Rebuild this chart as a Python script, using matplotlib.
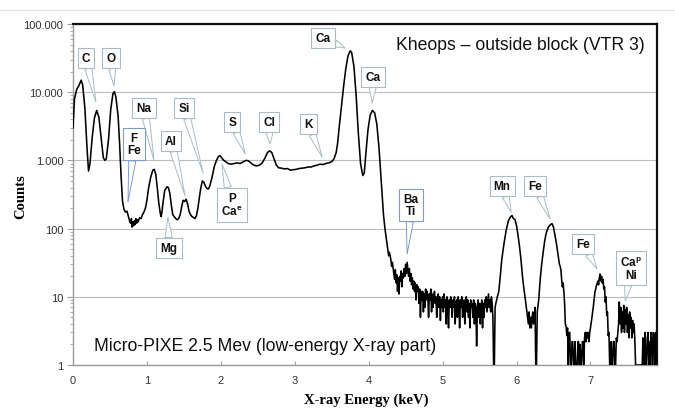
import matplotlib
matplotlib.use("Agg")
import matplotlib.pyplot as plt
from matplotlib.lines import Line2D
from matplotlib.ticker import FixedLocator, LogLocator, NullFormatter

# ---------------- data ----------------
energy_keV = [
    0.00, 0.02, 0.05, 0.08, 0.11, 0.13, 0.16, 0.19, 0.21, 0.23, 0.26, 0.29, 0.32, 0.35, 0.38, 0.41, 0.43, 0.45,
    0.48, 0.51, 0.54, 0.56, 0.58, 0.61, 0.63, 0.65, 0.67, 0.69, 0.71, 0.73, 0.75,
    0.76, 0.77, 0.78, 0.79, 0.80, 0.81, 0.82, 0.83, 0.84, 0.85, 0.86, 0.87, 0.88, 0.90, 0.92, 0.94, 0.96, 0.98,
    1.00, 1.02, 1.05, 1.08, 1.10, 1.12, 1.14, 1.16, 1.18, 1.19, 1.20, 1.22, 1.24, 1.27, 1.29, 1.31, 1.33, 1.35,
    1.37, 1.39, 1.41, 1.43, 1.45, 1.47, 1.49, 1.51, 1.53, 1.55, 1.57, 1.59, 1.61, 1.63, 1.65, 1.67, 1.69, 1.71,
    1.73, 1.75, 1.77, 1.79, 1.81, 1.83, 1.85, 1.88, 1.91, 1.94, 1.97, 1.99, 2.01, 2.04, 2.07, 2.10, 2.14, 2.18,
    2.22, 2.26, 2.30, 2.34, 2.37, 2.40, 2.44, 2.48, 2.52, 2.56, 2.60, 2.63, 2.66, 2.69, 2.72, 2.75, 2.78, 2.82,
    2.86, 2.90, 2.94, 2.98, 3.02, 3.06, 3.10, 3.14, 3.18, 3.22, 3.26, 3.30, 3.34, 3.38, 3.42, 3.46, 3.50, 3.53,
    3.56, 3.58, 3.60, 3.63, 3.66, 3.69, 3.72, 3.75, 3.77, 3.80, 3.83, 3.86, 3.89, 3.92, 3.94, 3.96, 3.99, 4.02,
    4.05, 4.08, 4.11, 4.14, 4.16, 4.18, 4.20, 4.22, 4.24, 4.26, 4.27, 4.28, 4.30, 4.31, 4.32, 4.34, 4.35, 4.36,
    4.37, 4.38, 4.39, 4.40, 4.41, 4.42, 4.43, 4.44, 4.45, 4.46, 4.47, 4.48, 4.49, 4.50, 4.51, 4.52, 4.53, 4.54,
    4.55, 4.56, 4.57, 4.58, 4.59, 4.60, 4.61, 4.62, 4.63, 4.64, 4.65, 4.66, 4.67, 4.68, 4.69, 4.70, 4.71,
    4.72, 4.73, 4.74, 4.75, 4.76, 4.77, 4.78, 4.79, 4.80, 4.81, 4.82, 4.83, 4.84, 4.85, 4.86, 4.87, 4.88, 4.89,
    4.90, 4.91, 4.92, 4.93, 4.94, 4.95, 4.96, 4.97, 4.98, 4.99, 5.00, 5.01, 5.02, 5.03, 5.04, 5.05, 5.06, 5.07,
    5.08, 5.09, 5.10, 5.11, 5.12, 5.13, 5.14, 5.15, 5.16, 5.17, 5.18, 5.19, 5.20, 5.21, 5.22, 5.23, 5.24, 5.25,
    5.26, 5.27, 5.28, 5.29, 5.30, 5.31, 5.32, 5.33, 5.34, 5.35, 5.36, 5.37, 5.38, 5.39, 5.40, 5.41, 5.42, 5.43,
    5.44, 5.45, 5.46, 5.47, 5.48, 5.49, 5.50, 5.51, 5.52, 5.53, 5.54, 5.55, 5.56, 5.57, 5.58, 5.59, 5.60, 5.61,
    5.62, 5.63, 5.64, 5.65, 5.66, 5.67, 5.68, 5.69, 5.70, 5.71, 5.72, 5.74, 5.76, 5.78, 5.80, 5.83, 5.86, 5.89,
    5.92, 5.94, 5.95, 5.96, 5.98, 6.00, 6.02, 6.04, 6.06, 6.08, 6.10, 6.12, 6.14, 6.16, 6.17, 6.18, 6.19, 6.20,
    6.21, 6.22, 6.23, 6.24, 6.25, 6.26, 6.27, 6.28, 6.30, 6.32, 6.34, 6.36, 6.38, 6.40, 6.43, 6.46, 6.48, 6.50,
    6.52, 6.54, 6.56, 6.58, 6.59, 6.60, 6.61, 6.62, 6.63, 6.64, 6.65, 6.66, 6.67, 6.68, 6.69, 6.70, 6.71, 6.72,
    6.73, 6.74, 6.75, 6.76, 6.77, 6.78, 6.79, 6.80, 6.81, 6.82, 6.83, 6.84, 6.85, 6.86, 6.87, 6.88, 6.89, 6.90,
    6.91, 6.92, 6.93, 6.94, 6.95, 6.96, 6.97, 6.98, 6.99, 7.00, 7.02, 7.04, 7.06, 7.08, 7.10, 7.11, 7.12, 7.13,
    7.14, 7.15, 7.16, 7.17, 7.18, 7.19, 7.20, 7.21, 7.22, 7.23, 7.24, 7.25, 7.26, 7.27, 7.28, 7.29, 7.30, 7.31,
    7.32, 7.33, 7.34, 7.35, 7.36, 7.37, 7.38, 7.39, 7.40, 7.41, 7.42, 7.43, 7.44, 7.45, 7.46, 7.47, 7.48, 7.49,
    7.50, 7.51, 7.52, 7.53, 7.54, 7.55, 7.56, 7.57, 7.58, 7.59, 7.60, 7.61, 7.62, 7.63, 7.64, 7.65, 7.66, 7.67,
    7.68, 7.69, 7.70, 7.71, 7.72, 7.73, 7.74, 7.75, 7.76, 7.77, 7.78, 7.79, 7.80, 7.81, 7.82, 7.83, 7.84, 7.85,
    7.86, 7.87, 7.88, 7.89,
]
counts = [
    3000, 8000, 11000, 12500, 15000, 13000, 6000, 1500, 700, 900, 2200, 4200, 5400, 4300, 2200, 1100, 1000, 1050,
    2000, 5500, 9500, 10200, 8500, 4500, 1800, 600, 250, 190, 175, 180, 150,
    135, 125, 120, 140, 105, 125, 110, 130, 115, 140, 120, 135, 125, 145, 140, 160, 175, 200,
    260, 380, 560, 720, 740, 620, 400, 240, 170, 150, 165, 250, 360, 410, 400, 330, 220, 160,
    150, 140, 135, 140, 160, 210, 260, 250, 270, 230, 180, 160, 150, 145, 140, 155, 200, 290,
    400, 500, 480, 420, 390, 380, 420, 560, 800, 1000, 1150, 1170, 1100, 1000, 950, 900, 880, 900,
    920, 900, 950, 1000, 990, 930, 860, 830, 850, 920, 1100, 1300, 1380, 1300, 1050, 860, 780, 770,
    750, 760, 720, 730, 740, 760, 770, 780, 800, 800, 830, 850, 880, 870, 900, 920, 960, 1050,
    1300, 1800, 3000, 6000, 12000, 22000, 34000, 40500, 38000, 24000, 9000, 2500, 900, 600, 650, 1200, 2800, 4600,
    5400, 5000, 3400, 1500, 700, 320, 160, 100, 70, 48, 40, 45, 35, 28, 32, 22, 18, 25,
    16, 21, 12, 19, 11, 20, 17, 24, 14, 22, 19, 26, 20, 30, 22, 32, 25, 20,
    26, 17, 22, 15, 19, 13, 17, 12, 16, 9, 15, 12, 14, 8, 13, 5, 12,
    9, 12, 6, 11, 7, 13, 9, 12, 10, 5, 11, 9, 13, 6, 11, 7, 10, 12,
    8, 10, 5, 9, 11, 7, 10, 4.5, 9, 7, 10, 6, 11, 7, 9, 4, 10, 8,
    3.5, 9, 7, 10, 8, 5, 9, 7, 10, 4, 8, 9, 5, 10, 8, 3.5, 9, 7,
    10, 5, 8, 9, 4, 8, 10, 6, 9, 5, 8, 3.5, 9, 7, 8, 5, 9, 4,
    8, 7, 1.9, 7, 9, 5, 8, 4, 7, 9, 3.5, 8, 5, 9, 7, 10, 6, 8,
    11, 7, 9, 6, 10, 8, 5, 1, 1, 7, 8, 10, 12, 20, 35, 60, 95, 130,
    150, 155, 145, 140, 135, 110, 80, 55, 35, 20, 13, 9, 6, 4, 6, 3.5, 5, 3.5,
    5, 6, 4, 5, 7, 1, 1, 6, 9, 18, 30, 45, 65, 85, 105, 115, 118, 105,
    80, 60, 42, 30, 28, 25, 18, 14, 16, 12, 8, 4, 3.7, 2.7, 3.5, 1, 3, 3,
    1, 1, 2.2, 2.2, 1, 1, 2.2, 1, 1, 1, 2.2, 2.2, 1, 2, 1, 1, 2.2, 2.2,
    1, 2.5, 3, 2.2, 3, 2.5, 3, 2.2, 3, 3.5, 5, 7.4, 11.6, 14.5, 17, 15, 19, 21.6,
    17, 20, 16, 18, 13, 14, 8.4, 10, 5.3, 6, 2.7, 3, 1, 1, 2.2, 1, 1, 2.2,
    2.2, 1, 1, 2.5, 2.2, 3, 4, 8.4, 4, 7, 3, 6, 3.5, 7.5, 3, 6.5, 4, 7,
    3, 5.5, 2.5, 6, 3.5, 5, 2.5, 4.5, 3, 4, 2.4, 1, 1, 1, 1, 1, 1, 1,
    1, 1, 1, 2.5, 1, 2.2, 3, 1, 1, 2.5, 3, 1, 2.2, 1, 3, 2.2, 1, 3,
    2.5, 1, 3, 1,
]

y_ticks = [1, 10, 100, 1000, 10000, 100000]
y_tick_labels = ["1", "10", "100", "1.000", "10.000", "100.000"]
x_ticks = [0, 1, 2, 3, 4, 5, 6, 7]

# callouts: label, peak energy, counts at the pointer tip
label_text = ["C", "O", "Na", "Si", "F\nFe", "Al", "S", "Cl", "K", "Ca", "Ca",
              "P\nCa$^{\\mathbf{e}}$", "Mg", "Ba\nTi", "Mn", "Fe", "Fe", "Ca$^{\\mathbf{p}}$\nNi"]
label_energy = [0.31, 0.555, 1.096, 1.76, 0.744, 1.516, 2.33, 2.666, 3.37, 3.68, 4.046,
                2.016, 1.285, 4.52, 5.927, 6.455, 7.09, 7.47]
label_counts = [7180, 12300, 980, 653, 245, 300, 1240, 1740, 1120, 44500, 6960,
                885, 148, 42.4, 175, 138, 25.6, 8.7]

# ---------------- layout / style ----------------
label_offset_px = [(-10, 44), (-3, 28), (-10, 53), (-19, 65), (6, 58), (-14, 55), (-13, 32), (-1, 22),
                   (-14, 33), (-22, 10), (1, 26), (10, -41), (1, -31), (4, 49), (-9, 26), (-15, 33),
                   (-14, 25), (6, 33)]
blue_labels = {4, 13}

W, H = 675, 410
L, R, T, B = 73, 657, 25, 366

plt.rcParams['font.family'] = ['Liberation Sans', 'DejaVu Sans']
plt.rcParams['mathtext.fontset'] = 'custom'
plt.rcParams['mathtext.rm'] = 'Liberation Sans'
plt.rcParams['mathtext.bf'] = 'Liberation Sans:bold'

fig = plt.figure(figsize=(W / 100, H / 100), dpi=100)
ax = fig.add_axes([L / W, 1 - B / H, (R - L) / W, (B - T) / H])

ax.plot(energy_keV, counts, color='black', lw=1.15, zorder=3, solid_joinstyle='round')

ax.set_yscale('log')
ax.set_ylim(1, 100000)
ax.set_xlim(0, 7.9)

ax.yaxis.set_major_locator(FixedLocator(y_ticks))
ax.set_yticklabels(y_tick_labels)
ax.yaxis.set_minor_locator(LogLocator(base=10, subs=range(2, 10), numticks=20))
ax.yaxis.set_minor_formatter(NullFormatter())
ax.set_xticks(x_ticks)
ax.set_xticklabels([str(v) for v in x_ticks])

ax.tick_params(axis='y', which='major', direction='out', length=4, color='#a0a0a0',
               labelsize=8, labelcolor='#333333', pad=3)
ax.tick_params(axis='y', which='minor', direction='out', length=2, color='#a0a0a0')
ax.tick_params(axis='x', which='major', direction='in', length=3, color='#a0a0a0',
               labelsize=8, labelcolor='#333333', pad=7)

ax.grid(True, axis='y', which='major', color='#b8bec4', lw=0.8, zorder=0)
ax.set_axisbelow(True)

for s in ('top', 'right'):
    ax.spines[s].set_color('#111111')
    ax.spines[s].set_linewidth(1.6)
for s in ('left', 'bottom'):
    ax.spines[s].set_color('#9a9a9a')
    ax.spines[s].set_linewidth(1.0)

# callouts
for i, (txt, e, c) in enumerate(zip(label_text, label_energy, label_counts)):
    ec = '#7f9cc8' if i in blue_labels else '#a9bcc6'
    dx, dy = label_offset_px[i]
    ax.annotate(txt, xy=(e, c), xytext=(dx * 0.72, dy * 0.72), textcoords='offset points',
                ha='center', va='center', fontsize=8.5, fontweight='bold', color='#111111',
                multialignment='center', linespacing=1.05, zorder=5,
                bbox=dict(boxstyle='square,pad=0.35', fc='white', ec=ec, lw=0.8),
                arrowprops=dict(arrowstyle='wedge,tail_width=0.6,shrink_factor=0.5',
                                fc='white', ec=ec, lw=0.7, shrinkA=0, shrinkB=0))

ax.text((645 - L) / (R - L), (B - 45) / (B - T), "Kheops \u2013 outside block (VTR 3)",
        transform=ax.transAxes, ha='right', va='center', fontsize=12.7, color='#111111')
ax.text((94 - L) / (R - L), (B - 347) / (B - T), "Micro-PIXE 2.5 Mev (low-energy X-ray part)",
        transform=ax.transAxes, ha='left', va='center', fontsize=12.7, color='#111111')

fig.text(20.5 / W, 1 - 197 / H, "Counts", rotation=90, ha='center', va='center',
         family='Liberation Serif', fontweight='bold', fontsize=10.5)
fig.text(366 / W, 1 - 400 / H, "X-ray Energy (keV)", ha='center', va='center',
         family='Liberation Serif', fontweight='bold', fontsize=10.5)

fig.add_artist(Line2D([0, 1], [1 - 11 / H, 1 - 11 / H], color='#e4e4e4', lw=1,
                      transform=fig.transFigure))

fig.savefig('out.png', dpi=100)
